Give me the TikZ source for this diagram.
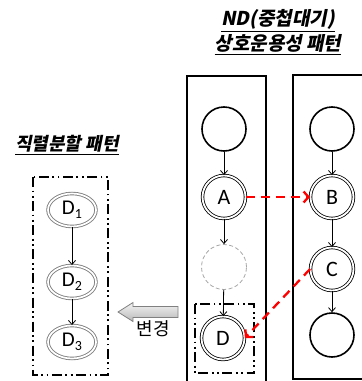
\documentclass[tikz,border=0pt]{standalone}
\usepackage{fontspec}
\setmainfont{Carlito}
\newfontfamily\kr[FakeSlant=0.2]{Noto Sans CJK KR}
\newfontfamily\krup{Noto Sans CJK KR}
\usetikzlibrary{arrows.meta,shapes.geometric}
\tikzset{
  plainc/.style={circle, draw, line width=1.6pt, minimum size=44pt, inner sep=0pt},
  dblc/.style={circle, draw, double, double distance=1.8pt, line width=0.8pt, minimum size=43pt, inner sep=0pt, font=\fontsize{22}{22}\selectfont},
  ghostc/.style={circle, draw=gray!70, dash pattern=on 4pt off 2.5pt, line width=0.8pt, minimum size=45pt, inner sep=0pt},
  dblell/.style={ellipse, draw=gray, double=white, double distance=1.7pt, line width=0.9pt, minimum width=48pt, minimum height=33pt, inner sep=0pt, font=\fontsize{21}{21}\selectfont},
  colbox/.style={draw, line width=1.8pt},
  ddbox/.style={draw, line width=1.8pt, dash pattern=on 10pt off 3.5pt on 1.8pt off 3.5pt on 1.8pt off 3.5pt},
  blk/.style={-{Straight Barb[length=4pt,width=7pt]}, line width=0.8pt},
  redarr/.style={red, line width=2.3pt, dash pattern=on 9pt off 6pt, -{Straight Barb[length=5pt,width=11pt,line width=2.3pt]}},
  ttl/.style={align=center, font=\kr\bfseries\fontsize{19}{25}\selectfont}
}
\begin{document}
\begin{tikzpicture}[x=1pt,y=-1pt]
\useasboundingbox (0,0) rectangle (362,381);
\begin{scope}
\clip (0,0) rectangle (362,381);
% column boxes
\draw[colbox] (187,76) rectangle (266,382);
\draw[colbox] (293,75) rectangle (375,379);
\end{scope}
% titles
\node[ttl] (t1) at (278,32) {\underline{ND(중첩대기)}\\\underline{상호운용성 패턴}};
\node[ttl, font=\kr\bfseries\fontsize{18}{20}\selectfont] (t2) at (67,145) {\underline{직렬분할 패턴}};
% left column
\node[plainc] (lt) at (224,129) {};
\node[dblc] (A) at (224,197) {A};
\node[ghostc] (X) at (224,267) {};
\node[dblc] (D) at (223,338) {D};
\draw[ddbox] (195,304) rectangle (254,373);
% right column
\node[plainc] (rt) at (332,129) {};
\node[dblc] (B) at (332,197) {B};
\node[dblc] (C) at (332,269) {C};
\node[plainc] (rb) at (332,335) {};
% edges
\draw[blk] (lt) -- (A);
\draw[blk] (A) -- (X);
\draw[blk] (X) -- (D);
\draw[blk] (rt) -- (B);
\draw[blk] (B) -- (C);
\draw[blk] (C) -- (rb);
\draw[redarr] (A) -- (B);
\draw[redarr] (C.west) -- (D.east);
% serial split
\draw[ddbox] (33,177) rectangle (108,375);
\node[dblell] (D1) at (72,210) {D\raisebox{-0.35ex}{\fontsize{14}{14}\selectfont 1}};
\node[dblell] (D2) at (72,282) {D\raisebox{-0.35ex}{\fontsize{14}{14}\selectfont 2}};
\node[dblell] (D3) at (72,342) {D\raisebox{-0.35ex}{\fontsize{14}{14}\selectfont 3}};
\draw[blk] (D1) -- (D2);
\draw[blk] (D2) -- (D3);
% change arrow
\shade[top color=gray!10, bottom color=gray!55, draw=gray, line width=0.8pt]
  (118,312) -- (133,302.5) -- (133,306.5) -- (178,306.5) -- (178,317.5) -- (133,317.5) -- (133,321.5) -- cycle;
\node[font=\krup\fontsize{18}{18}\selectfont] (chg) at (153,329) {변경};
\end{tikzpicture}
\end{document}
